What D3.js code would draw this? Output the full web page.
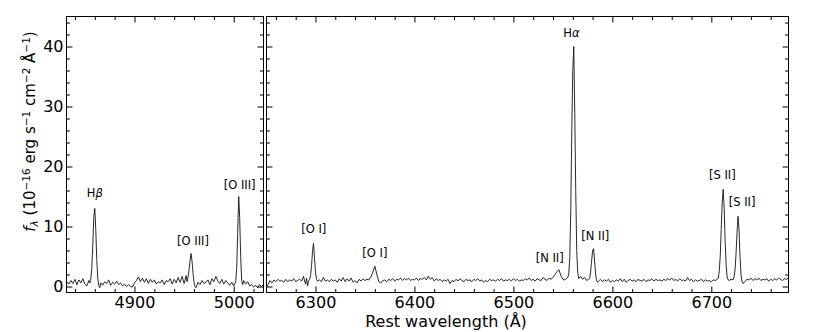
<!DOCTYPE html>
<html><head><meta charset="utf-8">
<script src="https://cdn.jsdelivr.net/npm/d3@7"></script>
<style>body{margin:0;background:#fff} text{font-family:"DejaVu Sans",sans-serif}</style>
</head><body><svg id="c" width="830" height="332"></svg>
<script>
// ---- data ----
const blueWl = [
 4830,4832,4834,4836,4838,4840,4842,4844,4846,4848,
 4850,4852,4854,4855,4856,4857,4858,4859,4860,4861,
 4862,4863,4864,4865,4866,4868,4870,4872,4874,4876,
 4878,4880,4882,4884,4886,4888,4890,4892,4894,4896,
 4898,4900,4902,4904,4906,4908,4910,4912,4914,4916,
 4918,4920,4922,4924,4926,4928,4930,4932,4934,4936,
 4938,4940,4942,4944,4946,4948,4950,4952,4953,4954,
 4955,4956,4957,4958,4959,4960,4961,4962,4964,4966,
 4968,4970,4972,4974,4976,4978,4980,4982,4984,4986,
 4988,4990,4992,4994,4996,4998,5000,5002,5003,5004,
 5005,5006,5007,5008,5009,5010,5012,5014,5016,5018,
 5020,5022,5024,5026,5028,5030];
const blueFlux = [
 0.1,0.7,0.4,1.0,0.5,1.2,0.3,1.1,0.6,1.3,
 0.4,0.1,1.0,0.6,1.3,3.0,7.0,11.5,13.0,9.5,
 4.5,1.4,0.2,-0.2,0.6,0.2,0.8,0.5,1.1,0.2,
 0.7,0.4,0.9,0.3,0.6,0.1,0.4,0.0,0.3,0.0,
 -0.1,0.6,1.0,1.6,0.8,1.4,0.7,1.3,0.5,1.2,
 0.7,1.1,0.4,0.8,0.6,1.1,0.3,1.0,0.8,1.3,
 0.4,1.2,0.6,1.5,0.7,1.7,0.5,1.8,0.8,1.6,
 2.8,4.3,5.5,4.2,2.2,0.7,0.0,-0.2,0.7,0.3,
 1.0,0.5,0.7,1.1,0.3,1.3,0.8,1.7,0.9,0.5,
 1.2,0.4,1.0,0.6,0.2,0.7,0.1,0.8,3.0,9.0,
 15.0,11.5,5.0,1.0,0.3,1.0,0.4,0.8,0.1,0.3,
 -0.1,0.2,-0.2,0.3,0.0,0.3];

const redWl = [
 6250,6252,6254,6256,6258,6260,6262,6264,6266,6268,
 6270,6272,6274,6276,6278,6280,6282,6284,6286,6288,
 6289,6290,6291,6292,6293,6294,6295,6296,6297,6298,
 6299,6300,6301,6302,6304,6306,6308,6310,6312,6314,
 6316,6318,6320,6322,6324,6326,6328,6330,6332,6334,
 6336,6338,6340,6342,6344,6346,6348,6350,6352,6354,
 6356,6358,6360,6362,6364,6366,6368,6370,6372,6374,
 6376,6378,6380,6382,6384,6386,6388,6390,6392,6394,
 6396,6398,6400,6402,6404,6406,6408,6410,6412,6414,
 6416,6418,6420,6422,6424,6426,6428,6430,6432,6434,
 6436,6438,6440,6442,6444,6446,6448,6450,6452,6454,
 6456,6458,6460,6462,6464,6466,6468,6470,6472,6474,
 6476,6478,6480,6482,6484,6486,6488,6490,6492,6494,
 6496,6498,6500,6502,6504,6506,6508,6510,6512,6514,
 6516,6518,6520,6522,6524,6526,6528,6530,6532,6534,
 6536,6538,6540,6542,6544,6546,6548,6550,6552,6554,
 6555,6556,6557,6558,6559,6560,6561,6562,6563,6564,
 6565,6566,6568,6570,6572,6574,6576,6577,6578,6579,
 6580,6581,6582,6583,6584,6585,6586,6588,6590,6592,
 6594,6596,6598,6600,6602,6604,6606,6608,6610,6612,
 6614,6616,6618,6620,6622,6624,6626,6628,6630,6632,
 6634,6636,6638,6640,6642,6644,6646,6648,6650,6652,
 6654,6656,6658,6660,6662,6664,6666,6668,6670,6672,
 6674,6676,6678,6680,6682,6684,6686,6688,6690,6692,
 6694,6696,6698,6700,6702,6704,6706,6707,6708,6709,
 6710,6711,6712,6713,6714,6715,6716,6717,6718,6720,
 6722,6723,6724,6725,6726,6727,6728,6729,6730,6731,
 6732,6734,6736,6738,6740,6742,6744,6746,6748,6750,
 6752,6754,6756,6758,6760,6762,6764,6766,6768,6770,
 6772,6774,6776,6778,6780];
const redFlux = [
 -0.2,0.3,1.0,0.6,1.1,0.8,1.2,0.9,1.0,0.7,
 1.2,0.8,1.1,0.9,1.3,0.8,1.0,1.2,0.9,1.7,
 0.9,0.4,1.4,0.1,0.9,1.2,1.8,3.4,5.8,7.2,
 4.8,2.4,1.2,0.9,1.1,0.8,1.5,0.9,1.1,0.8,
 1.2,0.9,1.1,0.7,1.3,0.9,1.5,0.8,1.3,0.9,
 1.4,0.7,1.0,0.6,1.2,0.9,1.3,1.0,1.2,1.1,
 1.6,2.4,3.4,2.0,0.8,0.6,1.0,1.1,0.8,1.2,
 1.0,1.3,0.9,1.2,1.1,1.4,1.0,1.3,1.1,1.4,
 1.0,1.2,1.1,1.4,1.0,1.3,1.2,1.5,1.1,1.7,
 1.2,1.5,0.9,1.3,1.0,1.2,0.8,1.1,0.9,1.2,
 0.5,1.0,0.8,1.2,0.9,1.3,1.0,0.8,1.2,1.0,
 1.1,0.8,1.2,1.0,1.3,0.9,1.1,0.7,1.0,0.8,
 1.2,1.0,1.1,0.9,1.2,1.0,1.3,0.9,1.1,1.0,
 1.2,0.9,1.3,1.0,1.2,0.9,1.1,1.0,1.3,1.1,
 1.4,1.0,1.2,0.9,1.3,1.1,1.0,1.5,1.2,1.0,
 1.4,1.2,1.5,2.0,2.5,2.8,1.8,1.2,1.1,1.4,
 1.5,2.2,5.0,13.0,26.0,36.0,40.0,29.0,16.0,6.0,
 2.4,1.3,1.7,1.2,1.5,1.0,1.2,1.3,2.4,4.2,
 5.9,6.3,4.4,2.2,1.0,0.7,0.9,1.2,0.8,1.1,
 0.9,1.2,0.7,1.0,0.8,1.1,0.9,1.3,0.8,1.2,
 0.7,1.0,1.2,0.9,1.1,0.8,1.2,1.0,0.9,1.2,
 0.8,1.1,1.0,1.3,0.9,1.2,1.0,1.1,0.9,1.2,
 1.0,1.3,1.1,1.4,1.0,1.2,0.9,1.3,1.0,1.1,
 0.9,1.5,1.0,1.2,0.8,1.1,0.9,1.0,1.2,0.8,
 1.1,0.9,1.0,0.8,1.1,1.0,1.2,1.4,2.5,5.0,
 9.5,14.0,16.2,13.0,7.5,3.5,1.6,1.1,1.0,1.2,
 1.1,1.6,2.8,5.5,9.0,11.7,9.5,5.0,2.0,0.8,
 0.5,0.8,1.2,1.1,1.4,1.0,1.3,1.1,1.4,1.0,
 1.2,1.1,1.3,0.9,1.2,1.0,1.3,1.1,1.4,1.2,
 1.0,1.3,1.2,1.5,1.3];

const blueMajor = [4900, 5000];
const blueMinor = [4840,4860,4880,4920,4940,4960,4980,5020];
const redMajor = [6300, 6400, 6500, 6600, 6700];
const redMinor = [6260,6280,6320,6340,6360,6380,6420,6440,6460,6480,6520,6540,6560,6580,6620,6640,6660,6680,6720,6740,6760];
const yMajor = [0, 10, 20, 30, 40];
const yMinor = [2,4,6,8,12,14,16,18,22,24,26,28,32,34,36,38,42,44];

const labelText  = ["H|β", "[O III]", "[O III]", "[O I]", "[O I]", "[N II]", "H|α", "[N II]", "[S II]", "[S II]"];
const labelWl    = [4860, 4959, 5006, 6298.3, 6360, 6536.7, 6558.6, 6582.8, 6711.2, 6731.1];
const labelFlux  = [15.55, 7.67, 17.0, 9.67, 5.6, 4.8, 42.3, 8.5, 18.6, 14.05];
const labelPanel = [0, 0, 0, 1, 1, 1, 1, 1, 1, 1];

// ---- layout ----
const svg = d3.select("#c");
const TOP = 16.5, BOT = 292.5;
const y = d3.scaleLinear().domain([-1, 45]).range([BOT, TOP]);
const panels = [
  {wl: blueWl, flux: blueFlux, x: d3.scaleLinear().domain([4831.5, 5030]).range([66.5, 263.5]), major: blueMajor, minor: blueMinor, yLabels: true},
  {wl: redWl, flux: redFlux, x: d3.scaleLinear().domain([6250.5, 6778]).range([266.5, 788.5]), major: redMajor, minor: redMinor, yLabels: false}
];

function styleAxis(g) {
  g.select(".domain").remove();
  g.attr("font-family", "DejaVu Sans").attr("font-size", 16).attr("color", "#000");
  g.selectAll("line").attr("stroke-width", 1);
}

panels.forEach((p, i) => {
  const x = p.x;
  const [x0, x1] = x.range();
  const clipId = "clip" + i;
  svg.append("clipPath").attr("id", clipId).append("rect")
    .attr("x", x0).attr("y", TOP).attr("width", x1 - x0).attr("height", BOT - TOP);

  const pts = p.wl.map((w, k) => [w, p.flux[k]]);
  svg.append("path").datum(pts)
    .attr("clip-path", `url(#${clipId})`)
    .attr("fill", "none").attr("stroke", "#111").attr("stroke-width", 0.9)
    .attr("stroke-linejoin", "round")
    .attr("d", d3.line().x(d => x(d[0])).y(d => y(d[1])));

  // bottom
  svg.append("g").attr("transform", `translate(0,${BOT})`)
    .call(d3.axisBottom(x).tickValues(p.major).tickSize(-6).tickPadding(4).tickFormat(d3.format("d"))).call(styleAxis);
  svg.append("g").attr("transform", `translate(0,${BOT})`)
    .call(d3.axisBottom(x).tickValues(p.minor).tickSize(-3.5).tickFormat("")).call(styleAxis);
  // top
  svg.append("g").attr("transform", `translate(0,${TOP})`)
    .call(d3.axisTop(x).tickValues(p.major).tickSize(-6).tickFormat("")).call(styleAxis);
  svg.append("g").attr("transform", `translate(0,${TOP})`)
    .call(d3.axisTop(x).tickValues(p.minor).tickSize(-3.5).tickFormat("")).call(styleAxis);
  // left
  const la = d3.axisLeft(y).tickValues(yMajor).tickSize(-6).tickPadding(3);
  if (!p.yLabels) la.tickFormat("");
  svg.append("g").attr("transform", `translate(${x0},0)`).call(la).call(styleAxis);
  svg.append("g").attr("transform", `translate(${x0},0)`)
    .call(d3.axisLeft(y).tickValues(yMinor).tickSize(-3.5).tickFormat("")).call(styleAxis);
  // right
  svg.append("g").attr("transform", `translate(${x1},0)`)
    .call(d3.axisRight(y).tickValues(yMajor).tickSize(-6).tickFormat("")).call(styleAxis);
  svg.append("g").attr("transform", `translate(${x1},0)`)
    .call(d3.axisRight(y).tickValues(yMinor).tickSize(-3.5).tickFormat("")).call(styleAxis);

  // frame
  svg.append("rect").attr("x", x0).attr("y", TOP).attr("width", x1 - x0).attr("height", BOT - TOP)
    .attr("fill", "none").attr("stroke", "#000").attr("stroke-width", 1);
});

// line labels
labelText.forEach((t, k) => {
  const x = panels[labelPanel[k]].x;
  const txt = svg.append("text")
    .attr("x", x(labelWl[k])).attr("y", y(labelFlux[k])).attr("dy", "0.36em")
    .attr("text-anchor", "middle").attr("font-size", 11.5).attr("fill", "#000");
  const parts = t.split("|");
  txt.append("tspan").text(parts[0]);
  if (parts[1]) txt.append("tspan").attr("font-style", "italic").text(parts[1]);
});

// axis titles
svg.append("text").attr("x", 446).attr("y", 327).attr("text-anchor", "middle")
  .attr("font-size", 16).attr("fill", "#000").text("Rest wavelength (Å)");

const yt = svg.append("text").attr("transform", "translate(35,131.5) rotate(-90)")
  .attr("text-anchor", "middle").attr("font-size", 15).attr("fill", "#000");
const parts = [
  ["f", "italic", 15, 0], ["λ", "italic", 10.5, 3], [" (10", null, 15, -3], ["−16", null, 10.5, -5.5],
  [" erg s", null, 15, 5.5], ["−1", null, 10.5, -5.5], [" cm", null, 15, 5.5], ["−2", null, 10.5, -5.5],
  [" Å", null, 15, 5.5], ["−1", null, 10.5, -5.5], [")", null, 15, 5.5]
];
parts.forEach(([s, st, fs, dy]) => {
  const ts = yt.append("tspan").attr("font-size", fs).attr("dy", dy).text(s);
  if (st) ts.attr("font-style", st);
});
</script></body></html>
